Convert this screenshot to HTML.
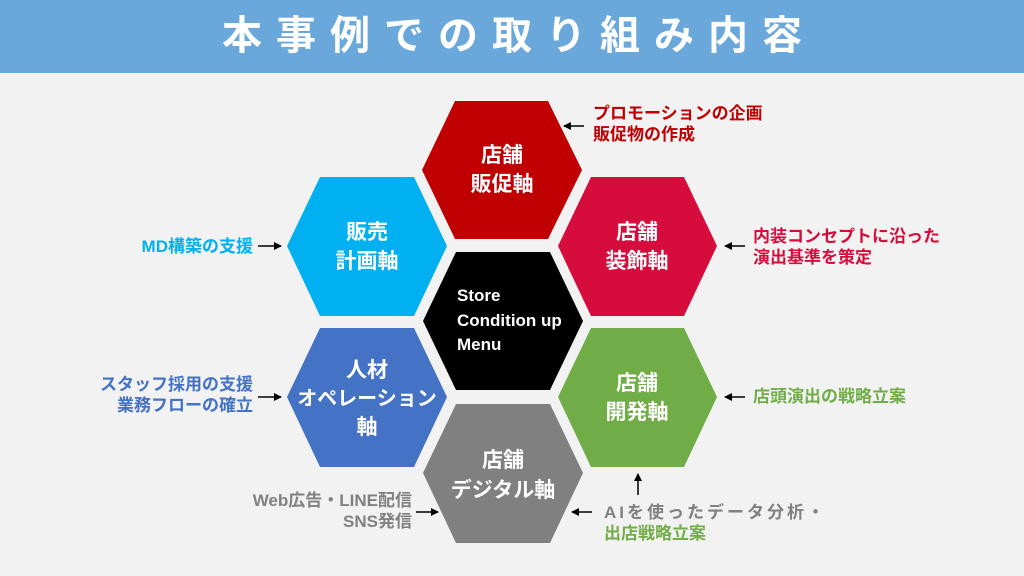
<!DOCTYPE html>
<html><head><meta charset="utf-8"><style>
body{margin:0;width:1024px;height:576px;background:#f2f2f2;overflow:hidden;font-family:"Liberation Sans","Noto Sans CJK JP",sans-serif;}
.bar{position:absolute;left:0;top:0;width:1024px;height:73px;background:#6aa8db;color:#fff;font-size:40px;font-weight:bold;text-align:center;line-height:73px;letter-spacing:14px;text-indent:14px;}
.t{position:absolute;font-weight:bold;font-size:17px;line-height:21px;white-space:nowrap;}
.r{text-align:right;}
</style></head><body>
<div class="bar">本事例での取り組み内容</div>
<svg width="1024" height="576" style="position:absolute;left:0;top:0">
<defs><marker id="a" markerWidth="8" markerHeight="8" refX="7" refY="4" orient="auto" markerUnits="userSpaceOnUse"><path d="M0,0 L8,4 L0,8z" fill="#000"/></marker></defs>
<g font-family="Liberation Sans, Noto Sans CJK JP, sans-serif" font-weight="bold" fill="#fff" font-size="21" text-anchor="middle">
<polygon points="422,170 455,101 548,101 582,170 548,239 455,239" fill="#c00000"/>
<text x="502" y="162">店舗</text><text x="502" y="191">販促軸</text>
<polygon points="287,246 320,177 414,177 447,246 414,316 320,316" fill="#00b0f0"/>
<text x="367" y="239">販売</text><text x="367" y="268">計画軸</text>
<polygon points="558,246 591,177 684,177 717,246 684,316 591,316" fill="#d50c3c"/>
<text x="637" y="239">店舗</text><text x="637" y="268">装飾軸</text>
<polygon points="423,321 456,252 550,252 583,321 550,390 456,390" fill="#000"/>
<text x="457" y="301" text-anchor="start" font-size="17">Store</text>
<text x="457" y="326" text-anchor="start" font-size="17">Condition up</text>
<text x="457" y="350" text-anchor="start" font-size="17">Menu</text>
<polygon points="287,397 320,328 414,328 447,397 414,467 320,467" fill="#4472c4"/>
<text x="367" y="377">人材</text><text x="367" y="405" font-size="20">オペレーション</text><text x="367" y="434">軸</text>
<polygon points="558,397 591,328 684,328 717,397 684,467 591,467" fill="#70ad47"/>
<text x="637" y="390">店舗</text><text x="637" y="419">開発軸</text>
<polygon points="423,473 456,404 550,404 583,473 550,543 456,543" fill="#808080"/>
<text x="503" y="467">店舗</text><text x="503" y="497">デジタル軸</text>
</g>
<g stroke="#000" stroke-width="1.5" marker-end="url(#a)">
<line x1="584" y1="126" x2="564" y2="126"/>
<line x1="745" y1="246" x2="725" y2="246"/>
<line x1="745" y1="397" x2="725" y2="397"/>
<line x1="258" y1="246" x2="281" y2="246"/>
<line x1="258" y1="397" x2="281" y2="397"/>
<line x1="416" y1="512" x2="438" y2="512"/>
<line x1="592" y1="512" x2="572" y2="512"/>
<line x1="638" y1="495" x2="638" y2="474"/>
</g>
</svg>
<div class="t" style="left:593px;top:103px;color:#c00000">プロモーションの企画<br>販促物の作成</div>
<div class="t" style="left:753px;top:226px;color:#d50c3c">内装コンセプトに沿った<br>演出基準を策定</div>
<div class="t" style="left:753px;top:386px;color:#70ad47">店頭演出の戦略立案</div>
<div class="t r" style="right:771px;top:236px;color:#00b0f0">MD構築の支援</div>
<div class="t r" style="right:771px;top:374px;color:#4472c4">スタッフ採用の支援<br>業務フローの確立</div>
<div class="t r" style="right:612px;top:490px;color:#808080">Web広告・LINE配信<br>SNS発信</div>
<div class="t" style="left:604px;top:502px;color:#808080;letter-spacing:3px">AIを使ったデータ分析・</div>
<div class="t" style="left:604px;top:523px;color:#70ad47">出店戦略立案</div>
</body></html>
